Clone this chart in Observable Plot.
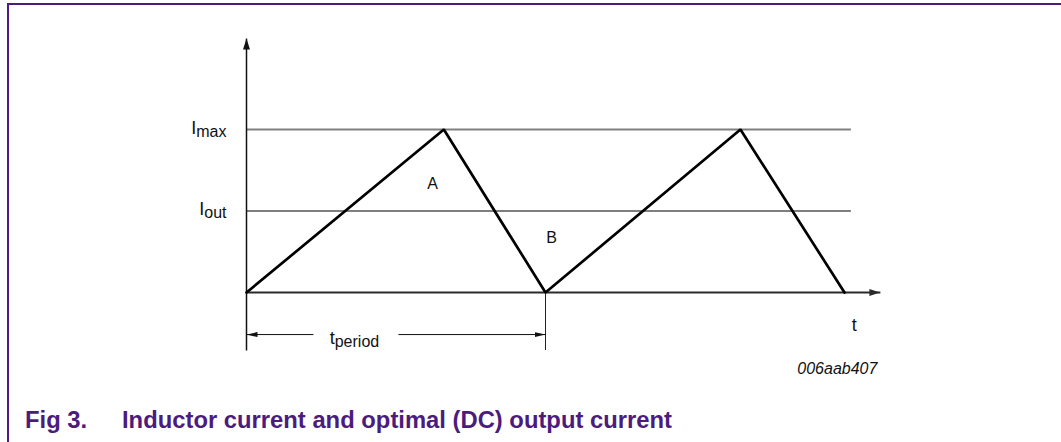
<!DOCTYPE html>
<html>
<head>
<meta charset="utf-8">
<script src="https://cdn.jsdelivr.net/npm/d3@7"></script>
<script src="https://cdn.jsdelivr.net/npm/@observablehq/plot@0.6"></script>
<style>
  html, body { margin: 0; padding: 0; background: #fff; }
  #wrap { position: relative; width: 1061px; height: 442px; overflow: hidden; font-family: "Liberation Sans", Arial, sans-serif; }
  #frame { position: absolute; left: 7px; top: 3px; right: -4px; bottom: -4px; border-left: 2px solid #4b1c7d; border-top: 2px solid #4b1c7d; }
  #chart { position: absolute; left: 0; top: 0; }
  .cap { position: absolute; top: 408px; line-height: 1; font-size: 23.8px; font-weight: bold; color: #4b1c7d; white-space: nowrap; }
</style>
</head>
<body>
<div id="wrap">
  <div id="frame"></div>
  <div id="chart"></div>
  <div class="cap" style="left:25px">Fig 3.</div>
  <div class="cap" style="left:122px">Inductor current and optimal (DC) output current</div>
</div>
<script>
// ---- data (time in periods, current relative to Imax) ----
const waveT = [0, 0.66, 1, 1.652, 2.0];
const waveI = [0, 1, 0, 1, 0];
const levelNames = ["I_max", "I_out"];
const levelValues = [1, 0.5];
const levelEndT = 2.023;
const axisEndT = 2.12;
const axisTopI = 1.558;
const axisBottomI = -0.356;
const periodT = 1;
const periodArrowI = -0.258;
const periodGapT = [0.224, 0.508];
const periodLabel = "t_period";
const periodLabelT = 0.361;
const periodLabelI = -0.313;
const regionNames = ["A", "B"];
const regionT = [0.622, 1.02];
const regionI = [0.669, 0.337];
const timeLabel = "t";
const timeLabelT = 2.033;
const timeLabelI = -0.202;
const figId = "006aab407";
const figIdT = 2.11;
const figIdI = -0.497;

const wave = waveT.map((t, k) => ({t, i: waveI[k]}));
const regions = regionNames.map((name, k) => ({name, t: regionT[k], i: regionI[k]}));

// filled arrowhead marker
function head(len, wid) {
  return (color) => {
    const ns = "http://www.w3.org/2000/svg";
    const m = document.createElementNS(ns, "marker");
    m.setAttribute("viewBox", `${-len} ${-wid / 2} ${len} ${wid}`);
    m.setAttribute("markerWidth", len);
    m.setAttribute("markerHeight", wid);
    m.setAttribute("markerUnits", "userSpaceOnUse");
    m.setAttribute("orient", "auto");
    m.setAttribute("refX", 0);
    m.setAttribute("refY", 0);
    const p = document.createElementNS(ns, "path");
    p.setAttribute("d", `M${-len},${-wid / 2}L0,0L${-len},${wid / 2}Z`);
    p.setAttribute("fill", color);
    p.setAttribute("stroke", "none");
    m.appendChild(p);
    return m;
  };
}

const font = {fontFamily: "'Liberation Sans', Arial, sans-serif"};

const chart = Plot.plot({
  width: 1061,
  height: 400,
  marginTop: 0, marginRight: 0, marginBottom: 0, marginLeft: 0,
  style: {background: "transparent", overflow: "visible", ...font},
  x: {type: "linear", domain: [0, 1], range: [246, 545], axis: null},
  y: {type: "linear", domain: [0, 1], range: [292, 129], axis: null},
  marks: [
    Plot.ruleY([levelValues[0]], {x1: 0, x2: levelEndT, stroke: "#808080", strokeWidth: 1.8}),
    Plot.ruleY([levelValues[1]], {x1: 0, x2: levelEndT, stroke: "#000", strokeWidth: 1.2}),
    Plot.ruleX([periodT], {y1: axisBottomI, y2: 0, stroke: "#222", strokeWidth: 1}),
    Plot.link([0], {x1: 0, y1: 0, x2: axisEndT, y2: 0, stroke: "#2a2a2a", strokeWidth: 1.8, markerEnd: head(11, 7)}),
    Plot.link([0], {x1: 0, y1: axisBottomI, x2: 0, y2: axisTopI, stroke: "#111", strokeWidth: 1.5, markerEnd: head(11, 7)}),
    Plot.link([0], {x1: periodGapT[0], y1: periodArrowI, x2: 0, y2: periodArrowI, stroke: "#111", strokeWidth: 1, markerEnd: head(11, 5)}),
    Plot.link([0], {x1: periodGapT[1], y1: periodArrowI, x2: periodT, y2: periodArrowI, stroke: "#111", strokeWidth: 1, markerEnd: head(11, 5)}),
    Plot.line(wave, {x: "t", y: "i", stroke: "#000", strokeWidth: 2.7, strokeLinejoin: "miter"}),
    Plot.text([0], {x: 0, y: levelValues[0], text: () => levelNames[0], textAnchor: "end", lineAnchor: "bottom", dx: -20, dy: 4, fontSize: 18, fill: "#111"}),
    Plot.text([0], {x: 0, y: levelValues[1], text: () => levelNames[1], textAnchor: "end", lineAnchor: "bottom", dx: -20, dy: 4, fontSize: 18, fill: "#111"}),
    Plot.text(regions, {x: "t", y: "i", text: "name", fontSize: 16, fill: "#111"}),
    Plot.text([0], {x: periodLabelT, y: periodLabelI, text: () => periodLabel, textAnchor: "middle", lineAnchor: "bottom", fontSize: 18, fill: "#111"}),
    Plot.text([0], {x: timeLabelT, y: timeLabelI, text: () => timeLabel, fontSize: 18, fill: "#111"}),
    Plot.text([0], {x: figIdT, y: figIdI, text: () => figId, textAnchor: "end", lineAnchor: "bottom", fontSize: 16, fontStyle: "italic", fill: "#111"})
  ]
});

// turn "X_sub" labels into text with a subscript
d3.select(chart).selectAll("text").each(function () {
  const s = this.textContent;
  const k = s.indexOf("_");
  if (k < 0) return;
  const main = s.slice(0, k), sub = s.slice(k + 1);
  this.textContent = "";
  const sel = d3.select(this);
  sel.append("tspan").text(main);
  sel.append("tspan").attr("font-size", 16).attr("dy", 3).text(sub);
});

document.getElementById("chart").appendChild(chart);
</script>
</body>
</html>
